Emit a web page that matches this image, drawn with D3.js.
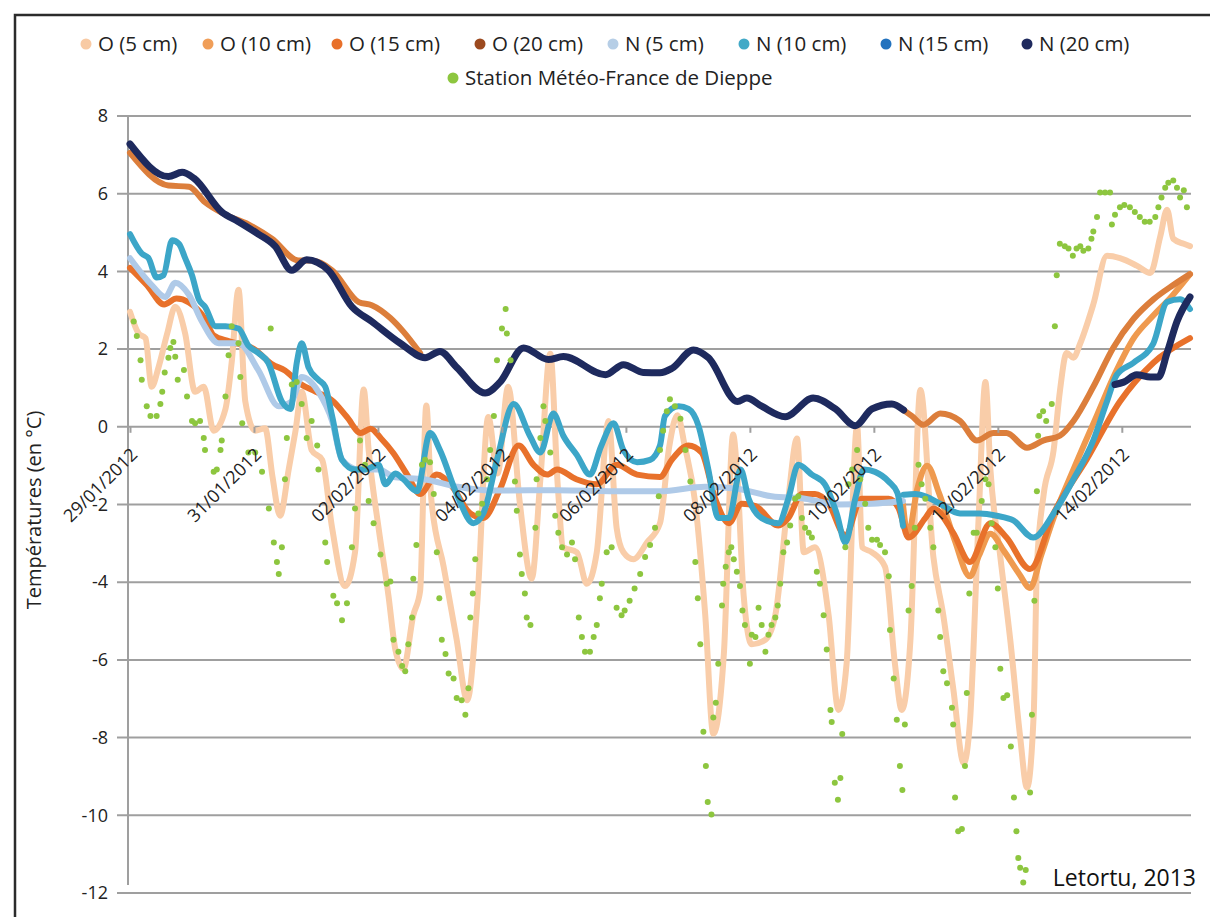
<!DOCTYPE html>
<html><head><meta charset="utf-8">
<script src="https://cdn.jsdelivr.net/npm/d3@7"></script>
<style>
html,body{margin:0;padding:0;background:#fff;}
svg{display:block;font-family:"Open Sans",sans-serif;}
</style></head>
<body>
<svg id="chart" width="1210" height="917"></svg>
<script>
// ---- data (day offset from 29/01/2012 00:00, temperature °C) ----
const yTicks = [-12,-10,-8,-6,-4,-2,0,2,4,6,8];
const xTickDays = [0,2,4,6,8,10,12,14,16];
const legendNames = ["O (5 cm)","O (10 cm)","O (15 cm)","O (20 cm)","N (5 cm)","N (10 cm)","N (15 cm)","N (20 cm)","Station Météo-France de Dieppe"];
const legendColors = ["#F8CAA4","#F09E58","#E8702A","#9C4A1F","#B6CEE6","#42A9C7","#2272BE","#1F2A5E","#8DC63F"];

const o5 = [[0.00,2.96],[0.14,2.4],[0.25,2.28],[0.35,1.03],[0.46,1.53],[0.6,2.4],[0.73,3.09],[0.89,2.4],[1.05,0.9],[1.19,1.03],[1.35,-0.1],[1.54,0.46],[1.64,1.65],[1.75,3.53],[1.86,0.65],[2.02,-0.1],[2.18,-0.04],[2.3,-1.3],[2.42,-2.29],[2.56,-1.1],[2.67,-0.1],[2.77,0.9],[2.93,-0.6],[3.1,-0.85],[3.26,-2.6],[3.47,-4.1],[3.63,-3.23],[3.77,0.96],[3.85,-0.6],[4.01,-2.6],[4.17,-4.35],[4.28,-5.73],[4.41,-6.23],[4.57,-4.85],[4.68,-4.23],[4.78,0.55],[4.86,-1.85],[5.06,-3.6],[5.27,-5.48],[5.44,-7.04],[5.6,-4.6],[5.78,0.25],[5.93,-1.2],[6.1,1.03],[6.29,-1.98],[6.48,-3.91],[6.62,-1.35],[6.78,1.88],[6.9,-1.5],[6.99,-3.1],[7.21,-3.23],[7.37,-4.04],[7.53,-3.23],[7.72,0.15],[7.85,-2.6],[7.96,-3.23],[8.12,-3.41],[8.34,-2.98],[8.55,-2.48],[8.7,-0.5],[8.83,0.3],[8.95,-0.5],[9.12,-1.98],[9.28,-4.85],[9.41,-7.9],[9.58,-5.85],[9.73,-0.2],[9.79,-1.1],[9.9,-4.35],[10.03,-5.6],[10.25,-5.48],[10.41,-4.85],[10.62,-1.85],[10.76,-0.3],[10.87,-3.23],[11.05,-3.1],[11.27,-4.85],[11.43,-7.29],[11.56,-6.1],[11.73,0.03],[11.81,-3.1],[11.97,-3.23],[12.18,-3.6],[12.34,-6.1],[12.45,-7.29],[12.59,-5.48],[12.75,0.95],[12.96,-3.35],[13.12,-4.85],[13.28,-6.73],[13.45,-8.66],[13.55,-7.6],[13.69,-2.35],[13.8,1.15],[13.88,-1.1],[14.04,-3.35],[14.2,-5.48],[14.36,-7.98],[14.47,-9.29],[14.58,-7.35],[14.63,-3.6],[14.74,-1.73],[14.9,-0.6],[15.0,0.9],[15.11,1.9],[15.22,1.78],[15.33,2.15],[15.54,3.15],[15.76,4.4],[15.97,4.34],[16.24,4.15],[16.46,3.96],[16.62,4.9],[16.73,5.59],[16.83,4.84],[17.0,4.71],[17.1,4.65]];

const o10 = [[12.47,-2.0],[12.55,-2.8],[12.7,-1.6],[12.86,-1.0],[13.05,-1.7],[13.3,-2.9],[13.55,-3.85],[13.7,-3.3],[13.88,-2.75],[14.1,-3.2],[14.35,-3.8],[14.52,-4.15],[14.7,-3.3],[14.9,-2.35],[15.22,-1.1],[15.6,0.3],[15.9,1.4],[16.2,2.3],[16.5,2.85],[16.8,3.35],[17.1,3.93]];

const o15 = [[0,4.09],[0.27,3.65],[0.55,3.15],[0.75,3.3],[0.95,3.2],[1.2,2.8],[1.35,2.35],[1.6,2.2],[2.0,2.0],[2.3,1.6],[2.5,1.45],[2.75,1.1],[3.0,0.9],[3.28,0.65],[3.5,0.25],[3.72,-0.16],[3.88,-0.05],[4.05,-0.3],[4.25,-0.68],[4.47,-1.23],[4.68,-1.73],[4.95,-1.23],[5.17,-1.48],[5.49,-2.23],[5.7,-2.35],[5.97,-1.6],[6.27,-0.48],[6.51,-0.98],[6.73,-1.23],[6.89,-1.1],[7.2,-1.35],[7.53,-1.48],[7.85,-0.98],[8.18,-1.23],[8.55,-1.29],[8.74,-0.85],[9.01,-0.48],[9.22,-0.66],[9.44,-1.85],[9.66,-2.48],[9.87,-1.98],[10.09,-2.04],[10.46,-2.54],[10.62,-2.35],[10.84,-1.73],[11.05,-1.73],[11.27,-1.98],[11.54,-2.79],[11.8,-1.85],[12.24,-1.85],[12.4,-2.1],[12.56,-2.85],[12.83,-2.35],[12.96,-2.1],[13.28,-2.73],[13.55,-3.48],[13.88,-2.48],[14.14,-2.85],[14.52,-3.66],[14.9,-2.23],[15.43,-0.85],[15.97,0.65],[16.51,1.65],[17.1,2.28]];

const o20 = [[0,7.05],[0.62,6.21],[0.95,6.18],[1.21,5.78],[1.54,5.46],[1.91,5.21],[2.29,4.84],[2.72,4.28],[2.93,4.28],[3.26,4.03],[3.69,3.21],[3.9,3.13],[4.2,2.8],[4.41,2.45],[4.68,1.9],[4.7,null],[12.48,0.43],[12.61,0.28],[12.8,0.05],[13.07,0.34],[13.39,0.15],[13.66,-0.35],[13.93,-0.16],[14.14,-0.16],[14.47,-0.54],[14.74,-0.35],[15.0,-0.23],[15.22,0.15],[15.54,1.03],[15.86,2.03],[16.19,2.78],[16.51,3.28],[16.83,3.65],[17.1,3.93]];

const n5 = [[0,4.34],[0.35,3.65],[0.57,3.34],[0.73,3.71],[0.95,3.4],[1.16,2.71],[1.43,2.15],[1.75,2.15],[2.07,1.46],[2.4,0.53],[2.61,0.65],[2.77,1.28],[3.04,0.9],[3.26,0.15],[3.42,-0.85],[3.69,-1.1],[4.01,-1.1],[4.28,-1.3],[4.74,-1.35],[5.27,-1.54],[5.81,-1.64],[6.88,-1.63],[7.96,-1.66],[8.55,-1.66],[9.28,-1.54],[9.82,-1.6],[10.35,-1.79],[10.89,-1.85],[11.43,-2.0],[11.97,-1.98],[12.47,-1.91]];

const n10 = [[0,4.96],[0.19,4.46],[0.3,4.34],[0.43,3.84],[0.54,3.9],[0.68,4.8],[0.79,4.71],[0.89,4.34],[1.0,3.9],[1.11,3.28],[1.21,3.09],[1.38,2.59],[1.54,2.59],[1.75,2.53],[1.91,2.09],[2.07,1.9],[2.23,1.65],[2.45,0.65],[2.59,0.46],[2.69,1.65],[2.77,2.15],[2.88,1.53],[3.04,1.21],[3.15,1.03],[3.26,0.28],[3.42,-0.85],[3.63,-1.1],[3.79,-1.1],[4.01,-0.98],[4.12,-1.48],[4.28,-1.2],[4.41,-1.35],[4.63,-1.66],[4.84,-0.16],[5.0,-0.6],[5.27,-1.73],[5.54,-2.48],[5.7,-2.23],[5.92,-0.85],[6.19,0.59],[6.45,-0.23],[6.62,-0.66],[6.83,0.34],[6.99,-0.23],[7.21,-0.73],[7.42,-1.23],[7.6,-0.5],[7.8,0.09],[7.96,-0.6],[8.18,-0.91],[8.39,-0.85],[8.55,-0.48],[8.63,0.28],[8.85,0.53],[9.01,0.46],[9.17,0.03],[9.33,-1.1],[9.49,-2.35],[9.66,-2.35],[9.85,-1.1],[9.98,-1.85],[10.19,-2.35],[10.46,-2.48],[10.62,-1.85],[10.78,-0.98],[11.0,-1.23],[11.21,-1.48],[11.4,-2.23],[11.54,-2.98],[11.7,-1.85],[11.84,-1.1],[12.02,-1.16],[12.24,-1.41],[12.38,-1.7],[12.47,-2.55],[12.475,null],[12.48,-1.75],[12.67,-1.73],[12.83,-1.79],[13.07,-1.98],[13.39,-2.23],[13.71,-2.23],[13.98,-2.29],[14.25,-2.41],[14.57,-2.85],[14.9,-2.23],[15.22,-1.35],[15.54,-0.35],[15.76,0.65],[15.92,1.34],[16.19,1.65],[16.51,2.15],[16.73,3.21],[16.94,3.28],[17.1,3.03]];

const n20 = [[0,7.28],[0.62,6.44],[0.84,6.55],[1.03,6.4],[1.48,5.53],[1.75,5.28],[2.07,4.96],[2.34,4.65],[2.61,4.03],[2.85,4.3],[3.2,4.03],[3.58,3.09],[3.9,2.71],[4.36,2.15],[4.76,1.78],[5.0,1.94],[5.27,1.53],[5.73,0.87],[5.97,1.15],[6.35,2.03],[6.75,1.73],[6.99,1.81],[7.67,1.34],[7.96,1.6],[8.28,1.4],[8.55,1.39],[8.74,1.5],[9.09,1.98],[9.33,1.78],[9.8,0.65],[9.95,0.74],[10.19,0.53],[10.57,0.26],[11.02,0.74],[11.38,0.46],[11.7,0.03],[11.97,0.46],[12.29,0.59],[12.48,0.43],[12.5,null],[15.89,1.09],[16.03,1.15],[16.24,1.34],[16.46,1.28],[16.59,1.28],[16.73,1.9],[16.89,2.71],[17.1,3.34]];

const station = [[0.06,2.71],[0.11,2.34],[0.17,1.71],[0.19,1.21],[0.27,0.53],[0.33,0.28],[0.43,0.28],[0.49,0.59],[0.52,0.9],[0.56,1.4],[0.62,1.78],[0.65,2.03],[0.7,2.18],[0.73,1.8],[0.77,1.21],[0.87,1.46],[0.92,0.78],[1.0,0.15],[1.05,0.09],[1.13,0.15],[1.19,-0.29],[1.21,-0.6],[1.35,-1.16],[1.4,-1.1],[1.46,-0.6],[1.48,-0.35],[1.54,0.78],[1.59,1.84],[1.64,2.59],[1.75,2.15],[1.78,1.28],[1.81,0.09],[1.91,-0.66],[2.02,-0.66],[2.13,-1.16],[2.24,-2.1],[2.27,2.53],[2.32,-2.98],[2.37,-3.48],[2.4,-3.79],[2.45,-3.1],[2.5,-1.35],[2.53,-0.29],[2.61,1.09],[2.69,1.15],[2.77,0.59],[2.85,-0.29],[2.93,0.15],[3.02,-0.48],[3.04,-1.1],[3.15,-2.98],[3.18,-3.48],[3.28,-4.35],[3.34,-4.54],[3.42,-4.98],[3.5,-4.54],[3.58,-3.1],[3.63,-2.1],[3.71,-0.35],[3.79,-0.98],[3.85,-1.91],[3.93,-2.48],[4.04,-3.29],[4.14,-4.04],[4.2,-3.98],[4.25,-5.48],[4.33,-5.79],[4.39,-6.16],[4.44,-6.29],[4.49,-5.6],[4.55,-4.91],[4.57,-3.91],[4.62,-3.04],[4.71,-0.98],[4.76,-0.85],[4.84,-0.91],[4.9,-1.73],[4.95,-3.23],[4.99,-4.41],[5.03,-5.48],[5.09,-5.85],[5.14,-6.35],[5.22,-6.48],[5.27,-6.98],[5.35,-7.04],[5.41,-7.41],[5.46,-6.73],[5.49,-4.91],[5.53,-4.29],[5.57,-3.41],[5.62,-2.23],[5.68,-1.98],[5.76,-1.35],[5.81,-0.6],[5.87,0.28],[5.92,1.71],[6.0,2.53],[6.06,3.03],[6.08,2.4],[6.14,1.71],[6.21,-1.41],[6.24,-2.16],[6.29,-3.29],[6.32,-3.79],[6.37,-4.29],[6.4,-4.91],[6.46,-5.1],[6.54,-2.6],[6.56,-1.35],[6.62,-0.29],[6.67,0.53],[6.7,0.15],[6.78,-0.66],[6.86,-2.29],[6.91,-2.73],[6.97,-3.1],[7.05,-3.29],[7.13,-2.98],[7.18,-3.41],[7.24,-4.91],[7.29,-5.41],[7.34,-5.79],[7.42,-5.79],[7.48,-5.41],[7.53,-5.1],[7.58,-4.41],[7.61,-4.04],[7.69,-3.23],[7.77,-3.1],[7.85,-4.66],[7.93,-4.85],[7.98,-4.73],[8.06,-4.48],[8.14,-4.16],[8.23,-3.79],[8.31,-3.35],[8.39,-3.04],[8.47,-2.6],[8.53,-1.79],[8.55,-0.6],[8.6,-0.1],[8.66,0.4],[8.71,0.71],[8.79,0.53],[8.88,0.21],[8.96,-0.6],[9.04,-1.41],[9.12,-3.48],[9.16,-4.41],[9.2,-5.6],[9.25,-7.85],[9.29,-8.73],[9.32,-9.66],[9.38,-9.98],[9.41,-7.48],[9.45,-7.1],[9.49,-6.1],[9.55,-4.6],[9.57,-4.04],[9.61,-3.6],[9.66,-3.23],[9.7,-3.1],[9.74,-3.41],[9.79,-3.73],[9.84,-4.1],[9.88,-4.73],[9.92,-5.1],[10.0,-6.1],[10.03,-5.35],[10.09,-5.41],[10.14,-4.66],[10.19,-5.1],[10.25,-5.79],[10.3,-5.35],[10.35,-5.1],[10.41,-4.91],[10.45,-4.6],[10.49,-4.04],[10.54,-3.23],[10.6,-2.98],[10.65,-2.54],[10.73,-1.85],[10.78,-1.79],[10.84,-2.35],[10.89,-2.6],[10.95,-2.73],[11.0,-2.85],[11.08,-3.73],[11.13,-4.04],[11.19,-4.85],[11.24,-5.73],[11.3,-7.29],[11.32,-7.6],[11.37,-9.16],[11.42,-9.6],[11.46,-9.04],[11.49,-7.91],[11.54,-3.1],[11.59,-1.48],[11.65,-1.1],[11.73,-0.6],[11.78,-1.35],[11.86,-1.98],[11.91,-2.6],[11.97,-2.91],[12.05,-2.91],[12.1,-3.04],[12.18,-3.23],[12.24,-3.85],[12.26,-5.23],[12.32,-6.48],[12.37,-7.54],[12.42,-8.73],[12.46,-9.35],[12.5,-7.66],[12.56,-4.73],[12.61,-4.1],[12.66,-2.6],[12.72,-0.98],[12.77,-1.48],[12.83,-1.85],[12.91,-2.6],[12.96,-3.1],[13.04,-4.73],[13.07,-5.41],[13.12,-6.29],[13.18,-6.6],[13.26,-7.23],[13.28,-7.66],[13.31,-9.54],[13.36,-10.41],[13.42,-10.35],[13.47,-8.73],[13.5,-6.85],[13.54,-4.29],[13.61,-2.73],[13.66,-2.73],[13.74,-1.91],[13.8,-1.35],[13.85,-1.48],[13.9,-2.48],[13.96,-3.1],[14.0,-4.16],[14.04,-6.23],[14.09,-6.98],[14.15,-6.91],[14.21,-8.23],[14.26,-9.54],[14.3,-10.41],[14.33,-11.1],[14.36,-11.35],[14.41,-11.73],[14.45,-11.41],[14.52,-9.41],[14.55,-7.41],[14.59,-4.48],[14.63,-1.66],[14.65,-0.23],[14.67,0.28],[14.73,0.4],[14.78,0.15],[14.87,0.59],[14.92,2.59],[14.95,3.9],[15.0,4.71],[15.08,4.65],[15.14,4.59],[15.21,4.4],[15.27,4.59],[15.33,4.65],[15.38,4.53],[15.46,4.59],[15.51,4.84],[15.54,5.03],[15.6,5.4],[15.65,6.03],[15.73,6.03],[15.81,6.03],[15.84,5.21],[15.89,5.46],[15.97,5.65],[16.04,5.71],[16.13,5.65],[16.21,5.53],[16.29,5.4],[16.37,5.28],[16.45,5.28],[16.54,5.4],[16.59,5.65],[16.64,5.9],[16.7,6.15],[16.75,6.28],[16.83,6.34],[16.89,6.15],[16.94,5.9],[17.0,6.09],[17.05,5.65]];

// ---- setup ----
const svg = d3.select("#chart");
const DAY = 86400000;
const t0 = Date.UTC(2012,0,29);
const toDate = d => new Date(t0 + d*DAY);

const x = d3.scaleUtc().domain([toDate(0), toDate(17.1)]).range([130, 1190]);
const y = d3.scaleLinear().domain([-12, 8]).range([893, 116]);

// outer frame
svg.append("rect").attr("x",15).attr("y",15).attr("width",1300).attr("height",1000)
  .attr("fill","none").attr("stroke","#2b2b2b").attr("stroke-width",2.5);

// gridlines
svg.append("g").selectAll("line").data(yTicks).join("line")
  .attr("x1",117).attr("x2",1191)
  .attr("y1",d=>y(d)).attr("y2",d=>y(d))
  .attr("stroke","#9f9f9f").attr("stroke-width",2);

// y axis
const yAxis = svg.append("g").attr("transform","translate(128,0)")
  .call(d3.axisLeft(y).tickValues(yTicks).tickSize(0).tickPadding(20).tickFormat(d => String(d)));
yAxis.select(".domain").remove();
yAxis.selectAll("text").attr("font-family","'Open Sans',sans-serif").attr("font-size",18).attr("fill","#222");
svg.append("line").attr("x1",128).attr("x2",128).attr("y1",116).attr("y2",885)
  .attr("stroke","#9f9f9f").attr("stroke-width",2);

// y title
svg.append("text").attr("transform","translate(41,510) rotate(-90)")
  .attr("text-anchor","middle").attr("font-size",20).attr("fill","#222")
  .text("Températures (en °C)");

// lines
const line = d3.line().defined(d => d[1] != null)
  .x(d => x(toDate(d[0]))).y(d => y(d[1])).curve(d3.curveMonotoneX);

const plot = svg.append("g");
const seriesDraw = [
  {data:o5,  color:"#F9CDA9", w:6},
  {data:o10, color:"#EF9A4F", w:6},
  {data:o15, color:"#E8712B", w:6},
  {data:o20, color:"#DC7E3B", w:6},
  {data:n5,  color:"#AFCAE8", w:6},
  {data:n10, color:"#3CA6C8", w:6},
  {data:n20, color:"#1E2A5E", w:7}
];
seriesDraw.forEach(s => {
  plot.append("path").datum(s.data).attr("d", line)
    .attr("fill","none").attr("stroke",s.color).attr("stroke-width",s.w)
    .attr("stroke-linejoin","round").attr("stroke-linecap","round");
});

// station dots
plot.append("g").selectAll("circle").data(station).join("circle")
  .attr("cx", d => x(toDate(d[0]))).attr("cy", d => y(d[1]))
  .attr("r", 3).attr("fill", "#8DC63F");

// x axis on zero line (drawn above the lines)
const xAxis = svg.append("g").attr("transform",`translate(0,${y(0)})`)
  .call(d3.axisBottom(x).tickValues(xTickDays.map(toDate)).tickSize(6).tickFormat(d3.utcFormat("%d/%m/%Y")));
xAxis.select(".domain").remove();
xAxis.selectAll(".tick line").attr("stroke","#9f9f9f").attr("stroke-width",2);
xAxis.selectAll("text")
  .attr("font-family","'Open Sans',sans-serif").attr("font-size",18).attr("fill","#222")
  .attr("text-anchor","end").attr("x",0).attr("y",0).attr("dy",0)
  .attr("transform","translate(8,29) rotate(-45)");

// legend
const legendPos = [[86,44],[208,44],[337,44],[480,44],[613,44],[744,44],[886,44],[1027,44],[453,78]];
const lg = svg.append("g");
legendNames.forEach((name,i) => {
  const [lx,ly] = legendPos[i];
  lg.append("circle").attr("cx",lx).attr("cy",ly).attr("r",5.5).attr("fill",legendColors[i]);
  lg.append("text").attr("x",lx+12).attr("y",ly).attr("dy","0.35em")
    .attr("font-size",20.5).attr("fill","#222").text(name);
});

// source
svg.append("text").attr("x",1196).attr("y",886).attr("text-anchor","end")
  .attr("font-size",23).attr("fill","#111").text("Letortu, 2013");
</script>
</body></html>
